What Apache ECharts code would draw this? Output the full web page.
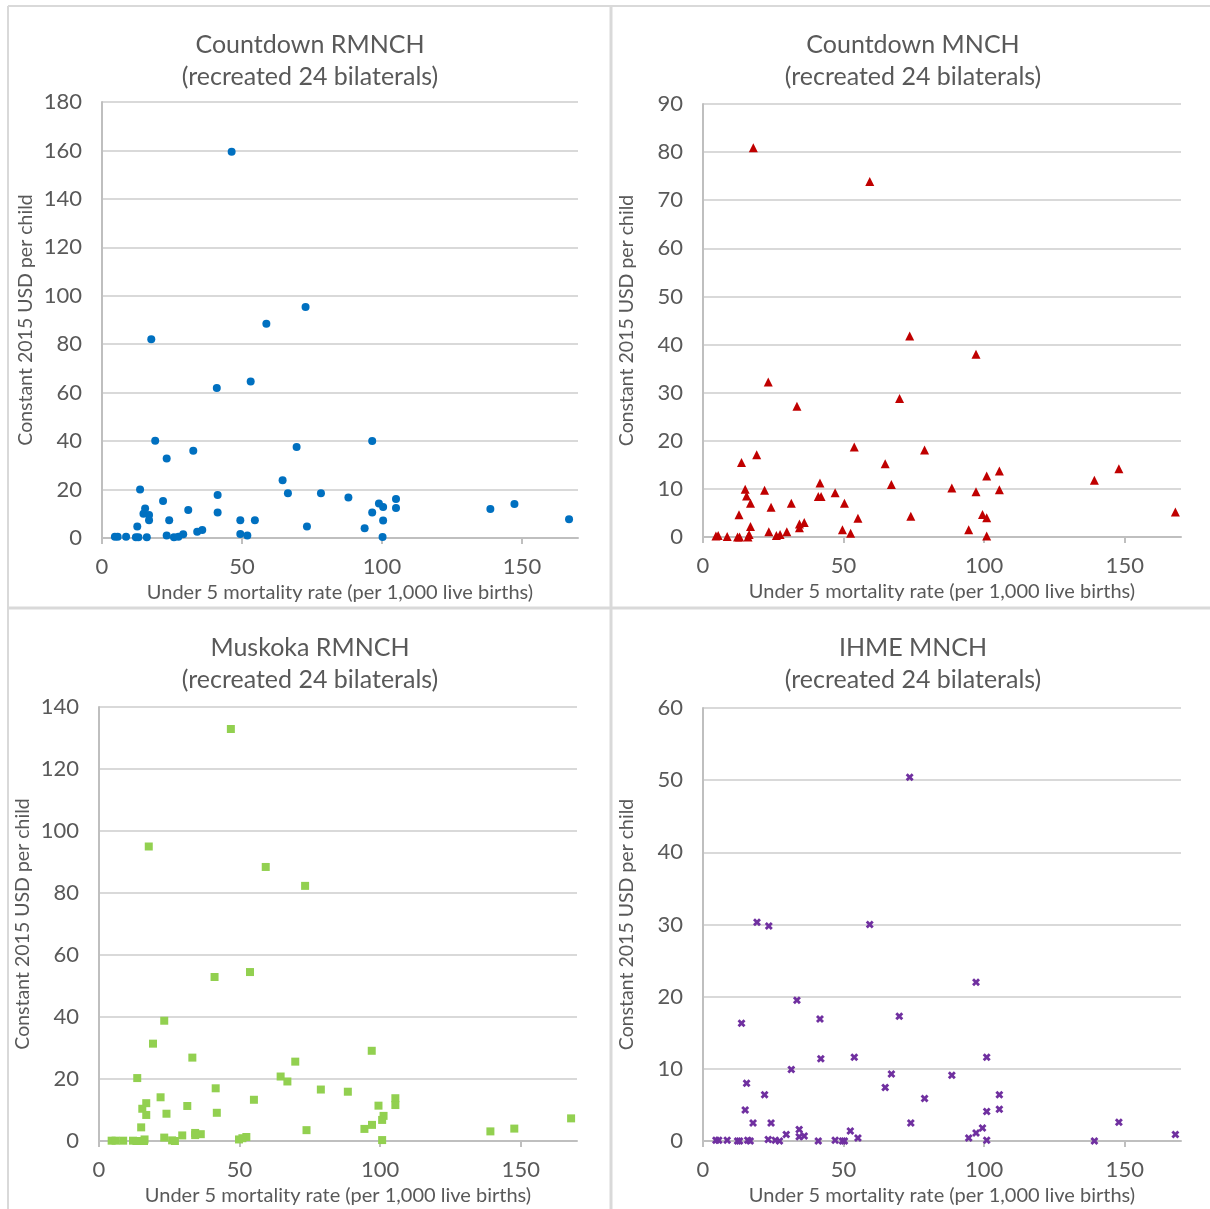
<!DOCTYPE html>
<html>
<head>
<meta charset="utf-8">
<script src="https://cdn.jsdelivr.net/npm/echarts@6/dist/echarts.min.js"></script>
<style>
  html, body { margin: 0; padding: 0; background: #fff; }
  #chart { width: 1210px; height: 1209px; }
</style>
</head>
<body>
<div id="chart"></div>
<script>
  // Countdown RMNCH
  const cdRmnchX = [4.6,5.6,8.6,12.1,12.6,13.0,13.6,14.8,15.4,16.0,16.8,16.8,17.6,19.0,21.8,23.1,23.1,24.0,25.7,27.3,29.0,30.8,32.6,34.0,35.8,41.0,41.3,41.3,46.3,49.4,49.4,51.9,53.1,54.6,58.7,64.5,66.4,69.5,72.7,73.2,78.2,88.0,93.8,96.5,96.5,98.9,100.4,100.4,100.2,105.0,105.0,138.7,147.3,166.8]
  const cdRmnchY = [0.5,0.5,0.5,0.3,4.7,0.3,20.0,10.0,12.2,0.3,9.5,7.3,82.1,40.1,15.3,32.8,1.0,7.3,0.3,0.5,1.5,11.6,36.0,2.6,3.3,61.9,17.8,10.5,159.5,7.3,1.7,1.0,64.6,7.3,88.5,23.8,18.5,37.6,95.4,4.7,18.5,16.7,4.0,40.0,10.5,14.2,12.8,7.2,0.4,16.1,12.4,12.0,14.0,7.7]

  // Countdown MNCH
  const cdMnchX = [4.6,5.4,8.6,12.3,12.8,13.0,13.7,15.0,15.5,16.0,16.4,16.9,16.9,17.9,19.1,21.9,23.2,23.4,24.2,26.1,27.4,29.8,31.4,33.4,34.3,34.3,36.0,41.0,41.6,42.0,47.0,49.6,50.3,52.5,53.8,55.1,59.3,64.8,67.0,69.9,73.5,73.9,78.8,88.5,94.5,97.1,97.1,99.4,100.9,100.9,100.9,105.4,105.4,139.2,147.9,168.0]
  const cdMnchY = [0.2,0.3,0.1,0,4.6,0,15.5,9.9,8.5,0,0.5,7.0,2.2,80.9,17.1,9.7,32.2,1.1,6.2,0.3,0.5,1.1,7.0,27.2,2.7,1.9,3.0,8.4,11.2,8.4,9.2,1.5,7.0,0.8,18.7,3.9,73.9,15.2,10.9,28.8,41.8,4.3,18.1,10.2,1.5,38.0,9.4,4.7,12.7,4.0,0.2,13.7,9.8,11.8,14.2,5.2]

  // Muskoka RMNCH
  const mkRmnchX = [46.9,17.7,59.3,73.3,53.7,41.1,23.2,19.2,33.2,69.8,13.6,64.6,67.0,41.5,78.9,21.9,16.8,15.4,55.1,31.4,41.9,16.8,24.0,15.0,73.8,34.2,34.2,36.2,29.6,23.2,26.0,27.0,52.4,51.0,49.8,16.2,4.5,5.9,8.6,12.1,13.3,16.0,97.0,88.5,105.4,105.4,99.4,101.2,100.7,97.1,94.4,100.7,139.2,147.7,167.9]
  const mkRmnchY = [132.9,95.0,88.4,82.3,54.5,52.9,38.8,31.4,26.9,25.6,20.3,20.8,19.2,17.0,16.6,14.1,12.2,10.4,13.3,11.3,9.1,8.4,8.8,4.4,3.5,2.6,1.9,2.2,1.8,1.1,0.2,0,1.3,0.9,0.5,0.5,0.1,0.1,0.1,0.1,0,0,29.1,15.9,13.8,11.6,11.4,8.1,6.8,5.2,3.9,0.3,3.1,4.0,7.3]

  // IHME MNCH
  const ihMnchX = [73.5,19.2,23.4,59.3,33.4,41.6,69.8,13.7,41.9,53.8,31.4,67.0,64.8,15.5,21.9,78.8,15.0,17.8,24.2,73.9,34.2,52.4,29.6,36.0,34.2,55.1,23.2,25.7,27.2,41.0,47.0,49.6,50.3,4.6,5.6,8.6,12.3,13.0,15.9,16.8,97.1,100.9,88.5,105.4,105.4,100.9,99.4,97.1,94.5,100.9,139.2,147.9,168.0]
  const ihMnchY = [50.4,30.3,29.8,30.0,19.5,16.9,17.3,16.3,11.4,11.6,9.9,9.3,7.4,8.0,6.4,5.9,4.3,2.5,2.5,2.5,1.6,1.4,0.9,0.7,0.6,0.4,0.2,0.1,0,0,0.1,0,0,0.1,0.1,0.1,0,0,0.1,0,22.0,11.6,9.1,6.4,4.4,4.1,1.8,1.1,0.4,0.1,0,2.6,0.9]

  const titles = ['Countdown RMNCH', 'Countdown MNCH', 'Muskoka RMNCH', 'IHME MNCH']
  const subTitle = '(recreated 24 bilaterals)'
  const yMax = [180, 90, 140, 60]
  const yStep = [20, 10, 20, 10]
  const xTicks = [0, 50, 100, 150]

  const font = 'Lato'
  const grey = '#595959'
  const xMark = 'path://M0,2.5L2.5,0L5,2.5L7.5,0L10,2.5L7.5,5L10,7.5L7.5,10L5,7.5L2.5,10L0,7.5L2.5,5Z'

  const panels = [
    { x: cdRmnchX, y: cdRmnchY, color: '#0070c0', symbol: 'circle', size: 8, grid: { left: 102, top: 102, width: 476, height: 436 }, tx: 305, ty: 24 },
    { x: cdMnchX, y: cdMnchY, color: '#c00000', symbol: 'triangle', size: 9, grid: { left: 703, top: 104, width: 478, height: 433 }, tx: 908, ty: 24 },
    { x: mkRmnchX, y: mkRmnchY, color: '#92d050', symbol: 'rect', size: 8, grid: { left: 99, top: 707, width: 478, height: 434 }, tx: 305, ty: 627 },
    { x: ihMnchX, y: ihMnchY, color: '#7030a0', symbol: xMark, size: 8, grid: { left: 703, top: 708, width: 478, height: 433 }, tx: 908, ty: 627 }
  ]

  const chart = echarts.init(document.getElementById('chart'), null, { renderer: 'canvas' })

  const option = {
    backgroundColor: '#fff',
    animation: false,
    title: panels.map((p, i) => ({
      text: titles[i] + '\n' + subTitle,
      left: p.tx,
      top: p.ty,
      textAlign: 'center',
      textStyle: { fontFamily: font, fontSize: 25, fontWeight: 'normal', color: grey, lineHeight: 32 }
    })),
    grid: panels.map(p => p.grid),
    xAxis: panels.map((p, i) => ({
      type: 'value',
      gridIndex: i,
      min: 0,
      max: 170,
      interval: 50,
      name: 'Under 5 mortality rate (per 1,000 live births)',
      nameLocation: 'middle',
      nameGap: 45,
      nameTextStyle: { fontFamily: font, fontSize: 20, color: grey },
      axisLine: { lineStyle: { color: '#bfbfbf', width: 2 } },
      axisTick: { show: true, length: 6, customValues: xTicks, lineStyle: { color: '#bfbfbf', width: 2 } },
      axisLabel: { customValues: xTicks, margin: 18, fontFamily: font, fontSize: 22, color: grey },
      splitLine: { show: false }
    })),
    yAxis: panels.map((p, i) => ({
      type: 'value',
      gridIndex: i,
      min: 0,
      max: yMax[i],
      interval: yStep[i],
      name: 'Constant 2015 USD per child',
      nameLocation: 'middle',
      nameGap: 66,
      nameTextStyle: { fontFamily: font, fontSize: 19.5, color: grey },
      axisLine: { show: true, lineStyle: { color: '#bfbfbf', width: 2 } },
      axisTick: { show: false },
      axisLabel: { margin: 20, fontFamily: font, fontSize: 22, color: grey },
      splitLine: { show: true, lineStyle: { color: '#d9d9d9', width: 2 } }
    })),
    series: panels.map((p, i) => ({
      type: 'scatter',
      xAxisIndex: i,
      yAxisIndex: i,
      symbol: p.symbol,
      symbolSize: p.size,
      itemStyle: { color: p.color, opacity: 1 },
      data: p.x.map((v, k) => [v, p.y[k]])
    })),
    graphic: [
      { type: 'line', shape: { x1: 8, y1: 6, x2: 1210, y2: 6 }, style: { stroke: '#d9d9d9', lineWidth: 2 } },
      { type: 'line', shape: { x1: 8, y1: 6, x2: 8, y2: 1209 }, style: { stroke: '#d9d9d9', lineWidth: 2 } },
      { type: 'line', shape: { x1: 611, y1: 6, x2: 611, y2: 1209 }, style: { stroke: '#d9d9d9', lineWidth: 3 } },
      { type: 'line', shape: { x1: 8, y1: 608, x2: 1210, y2: 608 }, style: { stroke: '#d9d9d9', lineWidth: 3 } }
    ]
  }

  chart.setOption(option)
</script>
</body>
</html>
